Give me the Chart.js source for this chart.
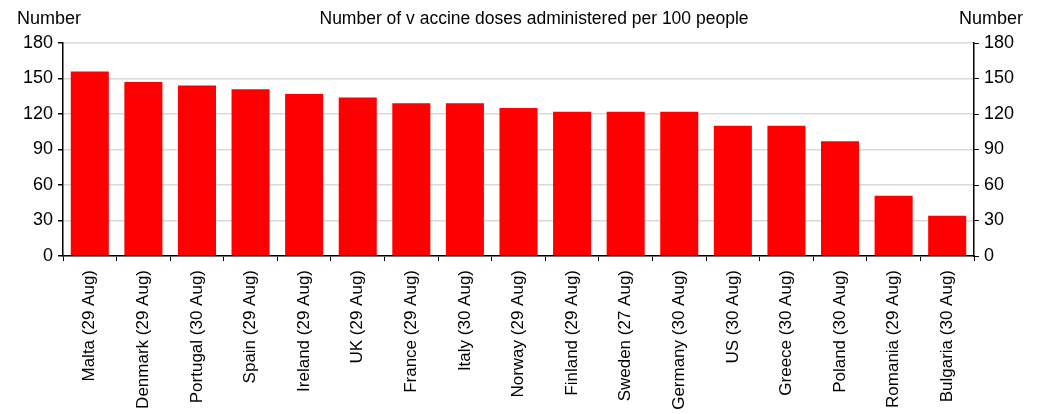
<!DOCTYPE html>
<html>
<head>
<meta charset="utf-8">
<script src="https://cdn.jsdelivr.net/npm/chart.js@4/dist/chart.umd.min.js"></script>
<style>
  html, body { margin: 0; padding: 0; background: #fff; }
  #wrap { width: 1040px; height: 414px; position: relative; }
</style>
</head>
<body>
<div id="wrap"><canvas id="dosesChart"></canvas></div>
<script>
// Values
const countries = [
  'Malta (29 Aug)', 'Denmark (29 Aug)', 'Portugal (30 Aug)', 'Spain (29 Aug)',
  'Ireland (29 Aug)', 'UK (29 Aug)', 'France (29 Aug)', 'Italy (30 Aug)',
  'Norway (29 Aug)', 'Finland (29 Aug)', 'Sweden (27 Aug)', 'Germany (30 Aug)',
  'US (30 Aug)', 'Greece (30 Aug)', 'Poland (30 Aug)', 'Romania (29 Aug)',
  'Bulgaria (30 Aug)'
];
const dosesPer100 = [156, 147, 144, 141, 137, 134, 129, 129, 125, 122, 122, 122, 110, 110, 97, 51, 34];
const axisMin = 0;
const axisMax = 180;
const axisStep = 30;

const chartTitle = 'Number of v accine doses administered per 100 people';
const axisUnit = 'Number';

const FONT = '"Liberation Sans", Arial, sans-serif';

// header texts: unit labels above both axes and the chart title
const headerText = {
  id: 'headerText',
  afterDraw(chart) {
    const ctx = chart.ctx;
    ctx.save();
    ctx.fillStyle = '#000';
    ctx.textBaseline = 'middle';
    ctx.font = '18px ' + FONT;
    ctx.textAlign = 'left';
    ctx.fillText(axisUnit, 17, 19);
    ctx.textAlign = 'right';
    ctx.fillText(axisUnit, 1023, 19);
    ctx.font = '17.5px ' + FONT;
    ctx.textAlign = 'center';
    ctx.fillText(chartTitle, 534, 19);
    ctx.restore();
  }
};

const yTicks = {
  color: '#000',
  font: { family: FONT, size: 18 },
  stepSize: axisStep,
  padding: 5,
};

new Chart(document.getElementById('dosesChart'), {
  type: 'bar',
  data: {
    labels: countries,
    datasets: [{
      data: dosesPer100,
      backgroundColor: '#ff0000',
      borderWidth: 0,
      barPercentage: 0.71,
      categoryPercentage: 1.0,
    }],
  },
  options: {
    responsive: true,
    maintainAspectRatio: false,
    animation: false,
    layout: { padding: { top: 43, left: 0, right: 0, bottom: 0 } },
    plugins: {
      legend: { display: false },
      tooltip: { enabled: false },
    },
    scales: {
      x: {
        grid: { drawOnChartArea: false, drawTicks: true, tickLength: 5, tickColor: '#000', offset: true },
        border: { color: '#000', width: 1.5 },
        ticks: {
          color: '#000',
          font: { family: FONT, size: 17 },
          minRotation: 90,
          maxRotation: 90,
          autoSkip: false,
          padding: 9,
        },
        afterFit(scale) { scale.height = 158; },
      },
      y: {
        position: 'left',
        min: axisMin,
        max: axisMax,
        grid: { color: '#d9d9d9', lineWidth: 1.5, tickLength: 5, tickColor: '#000' },
        border: { color: '#000', width: 1.5 },
        ticks: yTicks,
        afterFit(scale) { scale.width = 63; },
      },
      y2: {
        position: 'right',
        min: axisMin,
        max: axisMax,
        grid: { drawOnChartArea: false, tickLength: 5, tickColor: '#000' },
        border: { color: '#000', width: 1.5 },
        ticks: yTicks,
        afterFit(scale) { scale.width = 66; },
      },
    },
  },
  plugins: [headerText],
});
</script>
</body>
</html>
